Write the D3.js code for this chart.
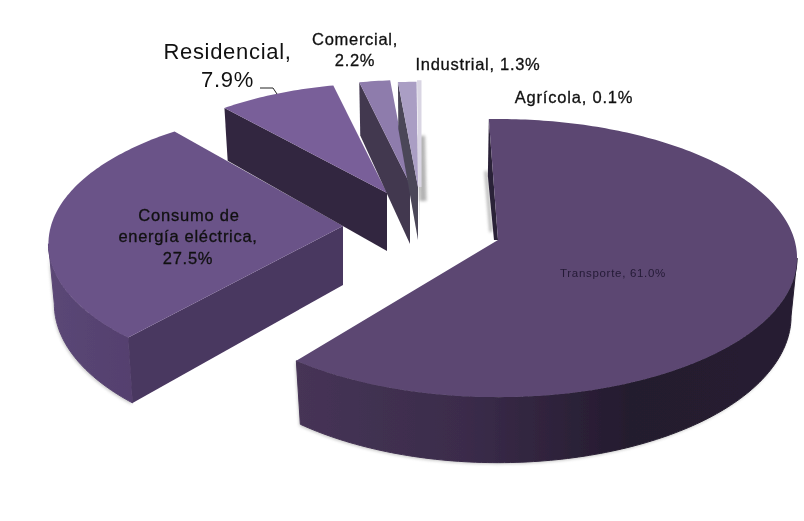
<!DOCTYPE html>
<html>
<head>
    <meta charset="utf-8">
    <script src="https://d3js.org/d3.v7.min.js"></script>
    <style>
        html, body { margin: 0; padding: 0; background: #fff; }
        text { font-family: "Liberation Sans", Arial, sans-serif; }
    </style>
</head>
<body>
    <div id="chart"></div>
    <script>
        // data
        const categories = ["Transporte", "Consumo de energía eléctrica", "Residencial", "Comercial", "Industrial", "Agrícola"];
        const shares = [61.0, 27.5, 7.9, 2.2, 1.3, 0.1];

        // colours per slice
        const topColors = ["#5b4672", "#6a5288", "#795e99", "#8e7bac", "#aa9ec4", "#d9d5e3"];
        const faceColors = ["#2c2138", "#4a3761", "#33263f", "#423850", "#4b4659", "#a8a8a8"];
        const wallStops = [["#463456", "#3b2c4b", "#241b2e", "#261d31"], ["#5b4776", "#54406e"]];

        // the slices are pulled apart by hand in the original, so each has its own place
        const apexX = [498, 343, 387, 410, 418, 420];
        const apexY = [240, 226, 193, 184, 187, 187];
        const twist = [-2, 2, 0, 0, 0, 0];
        const shrink = [1, 0.985, 0.91, 0.86, 0.87, 0.87];
        const depth = [57, 59, 58, 60, 53, 40];

        const width = 804, height = 521;
        const radiusX = 296.5, radiusY = 136.7, persp = 0.13;
        const taper = 0.98; // lower rim is a bit narrower than the upper one
        const deg = Math.PI / 180;

        const svg = d3.select("#chart").append("svg")
            .attr("width", width)
            .attr("height", height)
            .style("display", "block");

        const defs = svg.append("defs");
        defs.append("filter").attr("id", "soft")
            .append("feGaussianBlur").attr("stdDeviation", 0.6);
        defs.append("filter").attr("id", "halo")
            .attr("x", "-10%").attr("y", "-10%").attr("width", "120%").attr("height", "120%")
            .append("feGaussianBlur").attr("stdDeviation", 1.6);

        wallStops.forEach((stops, i) => {
            const g = defs.append("linearGradient").attr("id", "wall" + i);
            stops.forEach((c, j) => {
                g.append("stop")
                    .attr("offset", j / (stops.length - 1))
                    .attr("stop-color", c);
            });
        });

        const arcs = d3.pie().sort(null).value(d => d)(shares);
        const line = d3.line();

        // angle is clockwise from 12 o'clock, front of the disc is drawn larger
        function project(i, angle, drop) {
            const u = Math.sin(angle), v = -Math.cos(angle);
            const s = 1 / (1 - persp * v);
            const t = drop ? taper : 1;
            return [
                apexX[i] + radiusX * u * s * shrink[i] * t,
                apexY[i] + radiusY * v * s * shrink[i] + (drop ? depth[i] * s : 0)
            ];
        }

        function rim(i, from, to, drop) {
            const n = Math.max(2, Math.ceil(Math.abs(to - from) / deg));
            return d3.range(n + 1).map(k => project(i, from + (to - from) * k / n, drop));
        }

        const halo = svg.append("g").attr("filter", "url(#halo)").attr("opacity", 0.55);
        const pie3d = svg.append("g").attr("filter", "url(#soft)");

        // back to front
        const order = [1, 2, 3, 4, 5, 0];
        const edge = Math.asin(persp);
        order.forEach(i => {
            const a0 = arcs[i].startAngle + twist[i] * deg;
            const a1 = arcs[i].endAngle + twist[i] * deg;
            const apex = [apexX[i], apexY[i]];
            const g = pie3d.append("g").attr("class", "slice");

            // outer wall, only the part that faces the viewer
            const w0 = Math.max(a0, Math.PI / 2 + edge), w1 = Math.min(a1, 3 * Math.PI / 2 - edge);
            if (w1 > w0) {
                const wall = rim(i, w0, w1, false).concat(rim(i, w1, w0, true));
                halo.append("path")
                    .attr("d", line(wall) + "Z")
                    .attr("transform", "translate(-1,1.5)")
                    .attr("fill", "#999");
                g.append("path")
                    .attr("d", line(wall) + "Z")
                    .attr("fill", i === 0 ? "url(#wall0)" : "url(#wall1)")
                    .attr("stroke", i === 0 ? "url(#wall0)" : "url(#wall1)")
                    .attr("stroke-width", 1);
            }

            // cut face on the starting side, Transporte only shows a sliver of it
            const rimTop = project(i, a0, false), rimLow = project(i, a0, true);
            const face = i === 0
                ? [rimTop, apex, [apexX[i] - 4, apexY[i]], [rimTop[0] - 1, rimTop[1] + depth[i]]]
                : [rimTop, apex, [apexX[i], apexY[i] + depth[i]], rimLow];
            g.append("path")
                .attr("d", line(face) + "Z")
                .attr("fill", faceColors[i]);

            // top
            const top = [apex].concat(rim(i, a0, a1, false));
            g.append("path")
                .attr("d", line(top) + "Z")
                .attr("fill", topColors[i])
                .attr("stroke", i === 5 ? topColors[i] : "none")
                .attr("stroke-width", i === 5 ? 3 : 0);
        });

        // grey streaks next to the thinnest slice and beside the Transporte cut
        const thinTop = project(5, arcs[5].startAngle, false);
        const cutTop = project(0, arcs[0].startAngle + twist[0] * deg, false);
        const streaks = [
            [[[thinTop[0] + 3, thinTop[1] + 54], [apexX[5] + 3, apexY[5] + 14]], 7],
            [[[cutTop[0] - 3, cutTop[1] + 52], [apexX[0] - 7, apexY[0] - 8]], 3]
        ];
        streaks.forEach(s => {
            halo.append("path")
                .attr("d", line(s[0]))
                .attr("stroke", "#777")
                .attr("stroke-width", s[1])
                .attr("fill", "none");
        });

        // leader of the Residencial label
        svg.append("path")
            .attr("d", line([[260, 88], [273, 88], [277, 94]]))
            .attr("fill", "none")
            .attr("stroke", "#222")
            .attr("stroke-width", 1);

        // labels
        const labelLines = [
            { text: "Residencial,", x: 227.5, y: 59, size: 22, spacing: 0.7, heavy: 0 },
            { text: "7.9%", x: 227.5, y: 87, size: 22, spacing: 0.7, heavy: 0 },
            { text: "Comercial,", x: 355, y: 45, size: 16.5, spacing: 0.7, heavy: 0.3 },
            { text: "2.2%", x: 355, y: 66, size: 16.5, spacing: 0.7, heavy: 0.3 },
            { text: "Industrial, 1.3%", x: 478, y: 70, size: 16.5, spacing: 0.7, heavy: 0.3 },
            { text: "Agrícola, 0.1%", x: 574, y: 103, size: 16.5, spacing: 0.8, heavy: 0.3 },
            { text: "Consumo de", x: 189, y: 221, size: 16.5, spacing: 0.8, heavy: 0.3 },
            { text: "energía eléctrica,", x: 188, y: 242, size: 16.5, spacing: 0.7, heavy: 0.3 },
            { text: "27.5%", x: 188, y: 264, size: 16.5, spacing: 0.7, heavy: 0.3 },
            { text: "Transporte, 61.0%", x: 613, y: 277, size: 11.5, spacing: 0.7, heavy: 0 }
        ];

        svg.selectAll("text.label")
            .data(labelLines)
            .enter()
            .append("text")
            .attr("class", "label")
            .attr("x", d => d.x)
            .attr("y", d => d.y)
            .attr("text-anchor", "middle")
            .attr("font-size", d => d.size)
            .attr("letter-spacing", d => d.spacing)
            .attr("fill", d => d.size < 12 ? "#241a36" : "#111")
            .attr("stroke", "#111")
            .attr("stroke-width", d => d.heavy)
            .text(d => d.text);
    </script>
</body>
</html>
